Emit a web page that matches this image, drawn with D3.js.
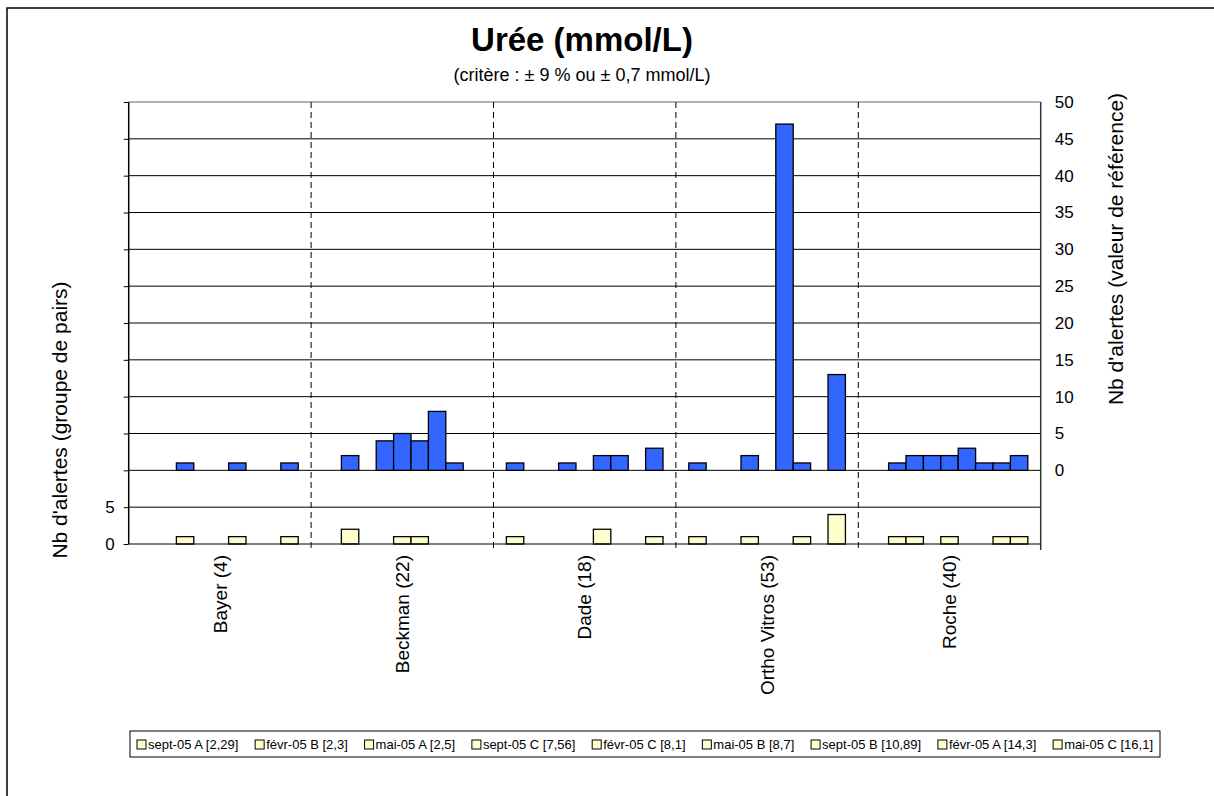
<!DOCTYPE html>
<html>
<head>
<meta charset="utf-8">
<script src="https://cdn.jsdelivr.net/npm/d3@7"></script>
<style>
  body { margin: 0; background: #fff; }
  svg { font-family: "Liberation Sans", Arial, sans-serif; }
</style>
</head>
<body>
<div id="chart"></div>
<script>
// groupes de pairs (catégories)
var groups = ["Bayer (4)", "Beckman (22)", "Dade (18)", "Ortho Vitros (53)", "Roche (40)"];
// séries (légende)
var series = ["sept-05 A [2,29]", "févr-05 B [2,3]", "mai-05 A [2,5]", "sept-05 C [7,56]", "févr-05 C [8,1]",
              "mai-05 B [8,7]", "sept-05 B [10,89]", "févr-05 A [14,3]", "mai-05 C [16,1]"];
// Nb d'alertes (valeur de référence) - une ligne par série, une valeur par groupe
var refValues = [
  [0, 0, 1, 1, 0],
  [0, 2, 0, 0, 1],
  [1, 0, 0, 0, 2],
  [0, 4, 1, 2, 2],
  [0, 5, 0, 0, 2],
  [1, 4, 2, 47, 3],
  [0, 8, 2, 1, 1],
  [0, 1, 0, 0, 1],
  [1, 0, 3, 13, 2]
];
// Nb d'alertes (groupe de pairs)
var pairValues = [
  [0, 0, 1, 1, 0],
  [0, 2, 0, 0, 1],
  [1, 0, 0, 0, 1],
  [0, 0, 0, 1, 0],
  [0, 1, 0, 0, 1],
  [1, 1, 2, 0, 0],
  [0, 0, 0, 1, 0],
  [0, 0, 0, 0, 1],
  [1, 0, 1, 4, 1]
];
var leftTicks = [0, 5];
var rightTicks = [0, 5, 10, 15, 20, 25, 30, 35, 40, 45, 50];

var W = 1214, H = 796;
var plot = {left: 128.7, right: 1040.7, top: 102, bottom: 544};
var font = "Liberation Sans, Arial, sans-serif";

var svg = d3.select("#chart").append("svg")
    .attr("width", W)
    .attr("height", H);

// cadre du graphique
svg.append("path")
    .attr("d", "M7,800 L7,8 L1220,8")
    .attr("fill", "none")
    .attr("stroke", "#000")
    .attr("stroke-width", 1.5);

var x = d3.scaleBand()
    .domain(groups)
    .range([plot.left, plot.right])
    .padding(0);

var xs = d3.scaleBand()
    .domain(d3.range(series.length))
    .range([0, x.bandwidth()])
    .paddingInner(0)
    .paddingOuter(0.74);

// axe de gauche : 0..60 (les pairs occupent 0..10)
var yLow = d3.scaleLinear().domain([0, 60]).range([plot.bottom, plot.top]);
// axe de droite : -10..50
var yRef = d3.scaleLinear().domain([-10, 50]).range([plot.bottom, plot.top]);

// grille horizontale
svg.append("g").selectAll("line")
    .data(d3.range(5, 61, 5))
    .join("line")
    .attr("x1", plot.left).attr("x2", plot.right)
    .attr("y1", d => yLow(d)).attr("y2", d => yLow(d))
    .attr("stroke", d => d == 60 ? "#999" : "#000")
    .attr("stroke-width", d => d == 60 ? 1.5 : 1);

// séparateurs verticaux en pointillés
svg.append("g").selectAll("line")
    .data(groups.slice(1))
    .join("line")
    .attr("x1", d => x(d)).attr("x2", d => x(d))
    .attr("y1", plot.top).attr("y2", plot.bottom + 6)
    .attr("stroke", "#000")
    .attr("stroke-dasharray", "6,4");

// barres - valeur de référence
var refData = [];
refValues.forEach(function(row, s) {
  row.forEach(function(v, g) { if (v > 0) refData.push({s: s, g: groups[g], v: v}); });
});
svg.append("g").selectAll("rect")
    .data(refData)
    .join("rect")
    .attr("x", d => x(d.g) + xs(d.s))
    .attr("width", xs.bandwidth())
    .attr("y", d => yRef(d.v))
    .attr("height", d => yRef(0) - yRef(d.v))
    .attr("fill", "#3366FF")
    .attr("stroke", "#000")
    .attr("stroke-width", 1.3);

// barres - groupe de pairs
var pairData = [];
pairValues.forEach(function(row, s) {
  row.forEach(function(v, g) { if (v > 0) pairData.push({s: s, g: groups[g], v: v}); });
});
svg.append("g").selectAll("rect")
    .data(pairData)
    .join("rect")
    .attr("x", d => x(d.g) + xs(d.s))
    .attr("width", xs.bandwidth())
    .attr("y", d => yLow(d.v))
    .attr("height", d => yLow(0) - yLow(d.v))
    .attr("fill", "#FFFFCC")
    .attr("stroke", "#000")
    .attr("stroke-width", 1.3);

// axe de gauche
var leftAxis = svg.append("g")
    .attr("transform", "translate(" + plot.left + ",0)")
    .call(d3.axisLeft(yLow).tickValues(d3.range(0, 61, 5)).tickSize(5).tickPadding(9)
        .tickFormat(d => leftTicks.indexOf(d) >= 0 ? d : ""));
leftAxis.select(".domain").attr("stroke", "#000").attr("stroke-width", 1.5).attr("d", "M0," + plot.top + "V" + plot.bottom);
leftAxis.selectAll("text").attr("font-size", 17).attr("font-family", font).attr("fill", "#000");

// axe de droite
var rightAxis = svg.append("g")
    .attr("transform", "translate(" + plot.right + ",0)")
    .call(d3.axisRight(yRef).tickValues(rightTicks).tickSize(0).tickPadding(14));
rightAxis.select(".domain").attr("stroke", "#333").attr("stroke-width", 1.5).attr("d", "M0," + plot.top + "V" + (plot.bottom + 6));
rightAxis.selectAll("text").attr("font-size", 17).attr("font-family", font).attr("fill", "#000");

// axe des catégories
var bottomAxis = svg.append("g")
    .attr("transform", "translate(0," + plot.bottom + ")")
    .call(d3.axisBottom(x).tickSize(0).tickPadding(0));
bottomAxis.select(".domain").attr("stroke", "#000").attr("d", "M" + plot.left + ",0H" + plot.right);
bottomAxis.selectAll("text")
    .attr("font-size", 19)
    .attr("font-family", font)
    .attr("fill", "#000")
    .attr("transform", "rotate(-90)")
    .attr("text-anchor", "end")
    .attr("x", -11)
    .attr("y", 0)
    .attr("dy", "0.35em");

// titres
svg.append("text")
    .attr("x", 582).attr("y", 51)
    .attr("text-anchor", "middle")
    .attr("font-size", 33).attr("font-weight", "bold")
    .text("Urée (mmol/L)");
svg.append("text")
    .attr("x", 582).attr("y", 81)
    .attr("text-anchor", "middle")
    .attr("font-size", 18)
    .text("(critère : ± 9 % ou ± 0,7 mmol/L)");

svg.append("text")
    .attr("transform", "translate(67,420) rotate(-90)")
    .attr("text-anchor", "middle")
    .attr("font-size", 21)
    .text("Nb d'alertes (groupe de pairs)");
svg.append("text")
    .attr("transform", "translate(1123,249) rotate(-90)")
    .attr("text-anchor", "middle")
    .attr("font-size", 21)
    .text("Nb d'alertes (valeur de référence)");

// légende
var legend = {x: 130, y: 731, w: 1030, h: 26};
svg.append("rect")
    .attr("x", legend.x).attr("y", legend.y)
    .attr("width", legend.w).attr("height", legend.h)
    .attr("fill", "#fff").attr("stroke", "#000");

var lg = svg.append("g");
var items = lg.selectAll("g")
    .data(series)
    .join("g");
items.append("rect")
    .attr("width", 9).attr("height", 9)
    .attr("y", -9)
    .attr("fill", "#FFFFCC").attr("stroke", "#000");
items.append("text")
    .attr("x", 11)
    .attr("font-size", 13)
    .text(d => d);

var widths = [];
items.each(function() { widths.push(this.getBBox().width); });
var total = d3.sum(widths);
var gap = (legend.w - 14 - total) / (series.length - 1);
var cx = legend.x + 7;
items.attr("transform", function(d, i) {
  var t = "translate(" + cx + "," + (legend.y + 18) + ")";
  cx += widths[i] + gap;
  return t;
});
</script>
</body>
</html>
